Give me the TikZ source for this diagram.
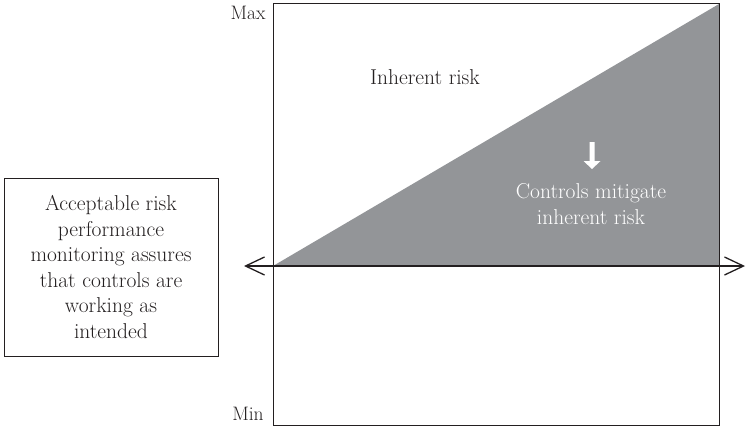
\documentclass[tikz,border=0pt]{standalone}
\usetikzlibrary{arrows.meta}
\definecolor{riskgray}{HTML}{939598}
\definecolor{inkblack}{HTML}{231F20}
\begin{document}
\begin{tikzpicture}[x=1pt,y=-1pt,
	>={Straight Barb[length=19pt,width=18pt,line width=1.3pt]},
	txt/.style={font=\fontsize{21.5}{25.5}\selectfont, align=center,
		inner sep=0pt, text=inkblack},
	axislbl/.style={txt, font=\fontsize{19.5}{24}\selectfont},
	frame/.style={draw=inkblack, line width=1pt}]
\useasboundingbox (0,0) rectangle (746,429);
% chart area
\coordinate (tl) at (273,3);
\coordinate (br) at (719,425);
\coordinate (base) at (273,266);
\coordinate (peak) at (719,4);
\coordinate (corner) at (719,266);
\coordinate (tipl) at (244,266);
\coordinate (tipr) at (745,266);
\fill[riskgray] (base) -- (peak) -- (corner) -- cycle;
\draw[frame] (tl) rectangle (br);
\draw[<->, draw=inkblack, line width=1.3pt] (tipl) -- (tipr);
% labels
\node[axislbl] (max) at (248,13) {Max};
\node[axislbl] (min) at (248,414) {Min};
\node[txt] (inherent) at (425,77) {Inherent risk};
\node[txt, text=white] (mitigate) at (591,204) {Controls mitigate\\inherent risk};
\fill[white] (589.5,142) -- (594.5,142) -- (594.5,161) -- (600.5,161)
	-- (592,169) -- (583.5,161) -- (589.5,161) -- cycle;
% acceptable level box
\node[frame, txt, minimum width=214pt, minimum height=178pt] (accept) at (111,267)
	{Acceptable risk\\performance\\monitoring assures\\that controls are\\working as\\intended};
\end{tikzpicture}
\end{document}
